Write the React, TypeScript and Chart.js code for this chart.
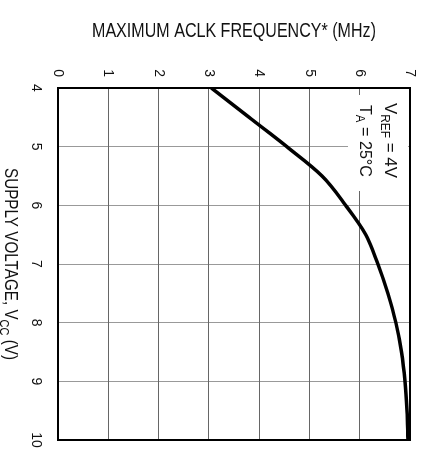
import React, { useEffect, useRef } from "react";
import { Chart, registerables } from "chart.js";

Chart.register(...registerables);

const voltages = [4, 4.5, 5, 5.5, 6, 6.5, 7, 7.5, 8, 8.5, 9, 9.5, 10];
const frequencies = [3.05, 3.8, 4.55, 5.25, 5.72, 6.12, 6.36, 6.56, 6.72, 6.83, 6.9, 6.94, 6.96];

const yTitle: [string, boolean][] = [["MAXIMUM ACLK FREQUENCY* (MHz)", false]];
const xTitleParts: [string, boolean][] = [["SUPPLY VOLTAGE, V", false], ["CC", true], [" (V)", false]];
const noteLine1: [string, boolean][] = [["V", false], ["REF", true], [" = 4V", false]];
const noteLine2: [string, boolean][] = [["T", false], ["A", true], [" = 25°C", false]];

const FONT = '"Liberation Sans", Arial, sans-serif';

function partsWidth(ctx: CanvasRenderingContext2D, parts: [string, boolean][], size: number) {
  let w = 0;
  for (const [t, sub] of parts) {
    ctx.font = `${sub ? Math.round(size * 0.7) : size}px ${FONT}`;
    w += ctx.measureText(t).width;
  }
  return w;
}

// draws text parts starting at (x, y) (baseline), squeezed to the given width
function drawParts(
  ctx: CanvasRenderingContext2D,
  parts: [string, boolean][],
  x: number,
  y: number,
  size: number,
  width: number
) {
  const natural = partsWidth(ctx, parts, size);
  const sx = width / natural;
  ctx.save();
  ctx.translate(x, y);
  ctx.scale(sx, 1);
  let cx = 0;
  ctx.textAlign = "left";
  ctx.textBaseline = "alphabetic";
  for (const [t, sub] of parts) {
    ctx.font = `${sub ? Math.round(size * 0.7) : size}px ${FONT}`;
    ctx.fillText(t, cx, sub ? size * 0.25 : 0);
    cx += ctx.measureText(t).width;
  }
  ctx.restore();
}

export default function App() {
  const ref = useRef<HTMLCanvasElement>(null);

  useEffect(() => {
    if (!ref.current) return;
    const textPlugin = {
      id: "textPlugin",
      afterDatasetsDraw(chart: any) {
        const ctx: CanvasRenderingContext2D = chart.ctx;
        const a = chart.chartArea;
        ctx.save();
        // annotation box
        ctx.fillStyle = "#ffffff";
        ctx.fillRect(95, a.top + 2, 96, 60);
        ctx.fillStyle = "#111";
        drawParts(ctx, noteLine1, 103, 42, 17, 75);
        drawParts(ctx, noteLine2, 105, 67, 17, 72);
        // frame
        ctx.strokeStyle = "#000";
        ctx.lineWidth = 2;
        ctx.strokeRect(a.left, a.top, a.right - a.left, a.bottom - a.top);
        // x title
        drawParts(ctx, xTitleParts, (a.left + a.right) / 2 - 96, 422, 18, 192);
        // y title
        ctx.translate(37, (a.top + a.bottom) / 2);
        ctx.rotate(-Math.PI / 2);
        drawParts(ctx, yTitle, -142, 0, 20, 284);
        ctx.restore();
      },
    };

    const chart = new Chart(ref.current, {
      type: "line",
      data: {
        datasets: [
          {
            data: voltages.map((v, i) => ({ x: v, y: frequencies[i] })),
            borderColor: "#000",
            borderWidth: 3.5,
            pointRadius: 0,
            cubicInterpolationMode: "monotone",
            fill: false,
          },
        ],
      },
      options: {
        responsive: false,
        animation: false,
        layout: { padding: { left: 0, top: 17, right: 15, bottom: 0 } },
        plugins: { legend: { display: false }, tooltip: { enabled: false } },
        scales: {
          x: {
            type: "linear",
            min: 4,
            max: 10,
            afterFit: (s: any) => {
              s.height = 58;
              s.paddingLeft = 0;
              s.paddingRight = 0;
            },
            ticks: { stepSize: 1, color: "#111", padding: 14, font: { size: 14, family: FONT } },
            grid: { color: "#999", lineWidth: 1, drawTicks: false },
            border: { display: false },
          },
          y: {
            type: "linear",
            min: 0,
            max: 7,
            afterFit: (s: any) => {
              s.width = 88;
              s.paddingTop = 0;
              s.paddingBottom = 0;
            },
            ticks: { stepSize: 1, color: "#111", padding: 11, font: { size: 14, family: FONT } },
            grid: { color: "#666", lineWidth: 1, drawTicks: false },
            border: { display: false },
          },
        },
      } as any,
      plugins: [textPlugin],
    });
    return () => chart.destroy();
  }, []);

  return (
    <div
      style={{
        position: "fixed",
        left: 0,
        top: 0,
        width: 455,
        height: 427,
        transformOrigin: "0 0",
        transform: "translateX(427px) rotate(90deg)",
        background: "#fff",
      }}
    >
      <canvas ref={ref} width={455} height={427} style={{ width: 455, height: 427, display: "block" }} />
    </div>
  );
}
